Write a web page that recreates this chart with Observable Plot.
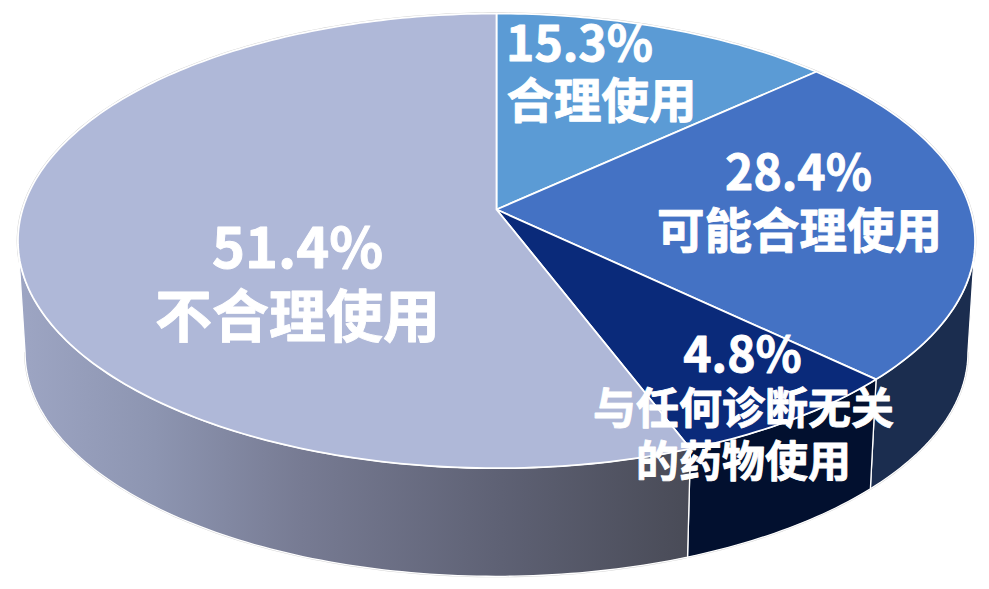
<!DOCTYPE html>
<html lang="zh">
<head>
<meta charset="utf-8">
<style>html,body{margin:0;padding:0;background:#fff}svg{display:block}</style>
<script src="https://cdn.jsdelivr.net/npm/d3@7"></script>
<script src="https://cdn.jsdelivr.net/npm/@observablehq/plot@0.6"></script>
</head>
<body>
<div id="chart"></div>
<script>
// Data
const categories = ["合理使用", "可能合理使用", "与任何诊断无关的药物使用", "不合理使用"];
const percentLabels = ["15.3%", "28.4%", "4.8%", "51.4%"];
// Share of the circle each slice actually occupies in the picture (percent)
const drawnShares = [13.2, 23.9, 7.1, 55.8];
const sliceColors = ["#5B9BD5", "#4472C4", "#0A2A7A", "#AFB8D8"];
const wallColors = ["#5B9BD5", "#1B2D4F", "#02102F", "url(#wallGradient)"];

// Label lines: text, slice index
const labelTexts = ["15.3%", "合理使用", "28.4%", "可能合理使用", "4.8%", "与任何诊断无关", "的药物使用", "51.4%", "不合理使用"];
const labelSlices = [0, 0, 1, 1, 2, 2, 2, 3, 3];
const labelX = [579, 601, 798, 799, 742, 743, 743, 297, 297];
const labelY = [45, 102, 174, 232, 356, 410, 463, 250, 318];
const labelSize = [48, 47.5, 48, 47.5, 48, 43, 43, 56, 57];

// View of the tilted disc
const view = {cx: 496, cy: 209, a: 474, b: 223, p: 0.138, floorCy: 321, floorScale: 0.985};
const project = (deg, floor = false) => {
  const t = deg * Math.PI / 180, u = Math.sin(t), v = Math.cos(t), w = 1 + view.p * v;
  const s = floor ? view.floorScale : 1, cy = floor ? view.floorCy : view.cy;
  return {x: view.cx + s * view.a * u / w, y: cy - s * view.b * v / w};
};
const arc = (from, to, floor = false) => {
  const n = Math.max(1, Math.ceil(Math.abs(to - from)));
  return d3.range(n + 1).map(i => project(from + (to - from) * i / n, floor));
};

const cumulative = d3.cumsum(drawnShares).map(d => d * 3.6);
const starts = [0, ...cumulative.slice(0, -1)];
const ends = [...cumulative.slice(0, -1), 360];

const topRows = categories.flatMap((category, i) => {
  const hub = {x: view.cx, y: view.cy};
  return [hub, ...arc(starts[i], ends[i]), hub].map(p => ({...p, category}));
});

// The wall is visible between the two silhouette tangents of the disc
const wallRange = [98, 262];
const wallRows = (i) => {
  const from = Math.max(starts[i], wallRange[0]), to = Math.min(ends[i], wallRange[1]);
  if (from >= to) return [];
  const pts = [...arc(from, to), ...arc(to, from, true)];
  return [...pts, pts[0]];
};

const gradientDefs = () => {
  const ns = "http://www.w3.org/2000/svg";
  const defs = document.createElementNS(ns, "defs");
  const g = document.createElementNS(ns, "linearGradient");
  g.setAttribute("id", "wallGradient");
  g.setAttribute("gradientUnits", "userSpaceOnUse");
  g.setAttribute("x1", 20); g.setAttribute("x2", 688); g.setAttribute("y1", 0); g.setAttribute("y2", 0);
  [[0, "#9DA5C3"], [0.2, "#8D95B1"], [0.42, "#777B93"], [0.72, "#5E6174"], [1, "#494B57"]].forEach(([o, c]) => {
    const s = document.createElementNS(ns, "stop");
    s.setAttribute("offset", o); s.setAttribute("stop-color", c);
    g.appendChild(s);
  });
  defs.appendChild(g);
  return defs;
};

const chart = Plot.plot({
  width: 989,
  height: 589,
  margin: 0,
  x: {domain: [0, 989], range: [0, 989], axis: null},
  y: {domain: [0, 589], range: [0, 589], axis: null},
  color: {domain: categories, range: sliceColors},
  style: {background: "#fff"},
  marks: [
    gradientDefs,
    Plot.line(arc(wallRange[0], wallRange[1], true), {x: "x", y: "y", stroke: "#cfcfcf", strokeWidth: 2}),
    Plot.line(arc(0, 360), {x: "x", y: "y", stroke: "#cfcfcf", strokeWidth: 2.5}),
    ...categories.map((c, i) => Plot.line(wallRows(i), {
      x: "x", y: "y", fill: wallColors[i], stroke: "#fff", strokeWidth: 1.3, strokeLinejoin: "round"
    })),
    Plot.line(topRows, {x: "x", y: "y", z: "category", fill: "category", stroke: "#fff", strokeWidth: 1.8, strokeLinejoin: "round"}),
    Plot.text(labelTexts, {
      x: (d, i) => labelX[i],
      y: (d, i) => labelY[i],
      text: d => d,
      fontSize: (d, i) => labelSize[i],
      fill: "#fff",
      stroke: "#fff",
      strokeWidth: 0.9,
      fontWeight: 700,
      fontFamily: "'Noto Sans CJK SC','Noto Sans',sans-serif",
      textAnchor: "middle",
      lineAnchor: "middle"
    })
  ]
});
document.getElementById("chart").appendChild(chart);
</script>
</body>
</html>
